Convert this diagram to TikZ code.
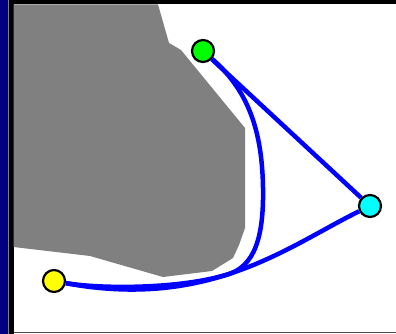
\documentclass[tikz,border=0pt]{standalone}
\usepackage[dvipsnames]{xcolor}
\usetikzlibrary{calc}
\definecolor{navy}{RGB}{0,0,128}
\definecolor{siteGreen}{RGB}{0,255,0}
\definecolor{siteCyan}{RGB}{0,255,255}
\definecolor{siteYellow}{RGB}{255,255,0}
\definecolor{wireBlue}{RGB}{0,0,255}
\definecolor{regionGray}{RGB}{128,128,128}
\tikzset{
  site/.style={
    shape = circle,
    draw,
    line width = 2.2pt,
    minimum size = 22pt,
    inner sep = 0pt
  },
  wire/.style={
    wireBlue,
    line width = 4.5pt
  },
}
\begin{document}
\begin{tikzpicture}[x=1pt,y=-1pt]
        \useasboundingbox (0,0) rectangle (396,334);
        \fill[white] (0,0) rectangle (396,334);
        % frame
        \fill[navy] (0,0) rectangle (8,334);
        \fill[black] (9,0) rectangle (13.5,334);
        \fill[black] (9,0) rectangle (396,4.5);
        \draw[regionGray, line width=1pt] (8.5,0) --++ (0,334);
        \draw[regionGray!60!black, line width=1pt] (13.5,332.8) --++ (382.5,0);
        % region
        \fill[regionGray] (13.5,4.5) -- (158,4.5) -- (169,43) -- (181,50) -- (245,128)
            -- (245,228) -- (239,245) -- (233,258) -- (212,271) -- (163,277)
            -- (90,256) -- (13.5,247) -- cycle;
        \node[site, fill=siteGreen]  (siteN) at (203,51) {};
        \node[site, fill=siteCyan]   (siteE) at (370,206) {};
        \node[site, fill=siteYellow] (siteW) at (54,281) {};
        \draw[wire] (siteN) -- (siteE);
        \draw[wire] (siteW) .. controls (210,310) and (290,245) .. (siteE);
        \draw[wire] (siteN) .. controls (250,92) and (264,135) .. (263,200)
            .. controls (262,255) and (245,271) .. (222,276)
            .. controls (175,289) and (100,289) .. (siteW);
\end{tikzpicture}
\end{document}
